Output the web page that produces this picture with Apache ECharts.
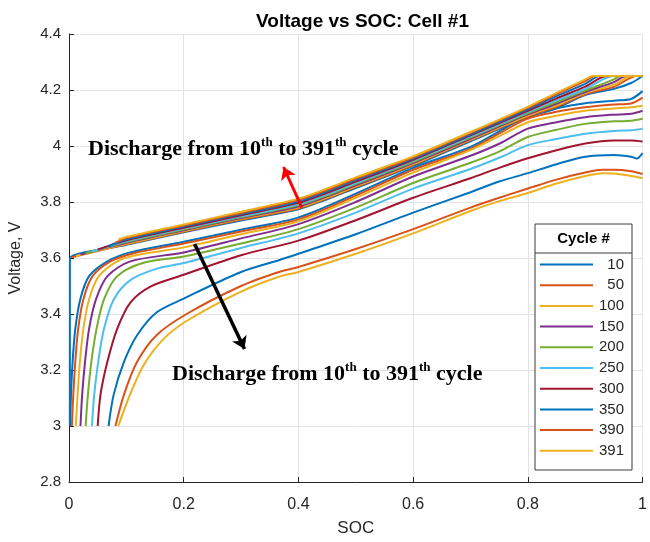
<!DOCTYPE html>
<html>
<head>
<meta charset="utf-8">
<script src="https://cdn.jsdelivr.net/npm/echarts@6/dist/echarts.min.js"></script>
<style>html,body{margin:0;padding:0;background:#fff}#c{width:650px;height:542px}</style>
</head>
<body>
<div id="c"></div>
<script>
// ---- data ----
const cycles = ['10','50','100','150','200','250','300','350','390','391'];
const cycleColors = ['#0072BD','#D95319','#EDB120','#7E2F8E','#77AC30','#4DBEEE','#A2142F','#0072BD','#D95319','#EDB120'];
const xTickLabels = ['0','0.2','0.4','0.6','0.8','1'];
const yTickLabels = ['2.8','3','3.2','3.4','3.6','3.8','4','4.2','4.4'];

// charge curves [SOC, V]
const charge10  = [[0.0015,3.0],[0.0015,3.57],[0.002,3.6],[0.1,3.647],[0.2,3.692],[0.3,3.734],[0.4,3.774],[0.45,3.81],[0.5,3.85],[0.55,3.889],[0.6,3.929],[0.7,4.017],[0.8,4.103],[0.85,4.135],[0.9,4.182],[0.95,4.204],[0.98,4.225],[1.0,4.25]];
const charge50  = [[0.005,3.603],[0.1,3.649],[0.2,3.694],[0.3,3.737],[0.4,3.777],[0.45,3.813],[0.5,3.853],[0.55,3.892],[0.6,3.932],[0.7,4.02],[0.8,4.106],[0.85,4.14],[0.9,4.185],[0.95,4.211],[0.99,4.25],[1.0,4.25]];
const charge100 = [[0.012,3.607],[0.1,3.651],[0.2,3.696],[0.3,3.74],[0.4,3.78],[0.45,3.816],[0.5,3.856],[0.55,3.895],[0.6,3.935],[0.7,4.023],[0.8,4.109],[0.85,4.145],[0.9,4.189],[0.95,4.219],[0.982,4.25],[1.0,4.25]];
const charge150 = [[0.02,3.612],[0.1,3.654],[0.2,3.699],[0.3,3.743],[0.4,3.784],[0.45,3.82],[0.5,3.86],[0.55,3.899],[0.6,3.939],[0.7,4.026],[0.8,4.113],[0.85,4.151],[0.9,4.193],[0.95,4.228],[0.972,4.25],[1.0,4.25]];
const charge200 = [[0.029,3.617],[0.1,3.657],[0.2,3.702],[0.3,3.746],[0.4,3.788],[0.45,3.824],[0.5,3.864],[0.55,3.903],[0.6,3.943],[0.7,4.03],[0.8,4.117],[0.85,4.157],[0.9,4.198],[0.95,4.238],[0.962,4.25],[1.0,4.25]];
const charge250 = [[0.04,3.623],[0.1,3.66],[0.2,3.705],[0.3,3.749],[0.4,3.792],[0.45,3.828],[0.5,3.868],[0.55,3.907],[0.6,3.947],[0.7,4.034],[0.8,4.121],[0.85,4.163],[0.9,4.204],[0.95,4.25],[1.0,4.25]];
const charge300 = [[0.05,3.63],[0.1,3.663],[0.2,3.708],[0.3,3.753],[0.4,3.797],[0.45,3.833],[0.5,3.873],[0.55,3.911],[0.6,3.951],[0.7,4.038],[0.8,4.126],[0.85,4.17],[0.9,4.212],[0.938,4.25],[1.0,4.25]];
const charge350 = [[0.069,3.642],[0.1,3.667],[0.2,3.712],[0.3,3.757],[0.4,3.802],[0.45,3.838],[0.5,3.878],[0.55,3.916],[0.6,3.955],[0.7,4.042],[0.8,4.131],[0.85,4.178],[0.9,4.222],[0.926,4.25],[1.0,4.25]];
const charge390 = [[0.081,3.655],[0.1,3.671],[0.2,3.716],[0.3,3.761],[0.4,3.807],[0.45,3.843],[0.5,3.883],[0.55,3.92],[0.6,3.959],[0.7,4.046],[0.8,4.136],[0.85,4.185],[0.9,4.232],[0.918,4.25],[1.0,4.25]];
const charge391 = [[0.086,3.666],[0.1,3.675],[0.2,3.72],[0.3,3.765],[0.4,3.812],[0.45,3.848],[0.5,3.888],[0.55,3.925],[0.6,3.963],[0.7,4.05],[0.8,4.14],[0.85,4.19],[0.9,4.238],[0.913,4.25],[1.0,4.25]];

// discharge curves [SOC, V]
const dis10  = [[0.002,3.0],[0.0035,3.113],[0.0063,3.23],[0.011,3.347],[0.0196,3.452],[0.035,3.535],[0.067,3.588],[0.107,3.62],[0.2,3.658],[0.3,3.701],[0.4,3.745],[0.5,3.83],[0.6,3.922],[0.7,3.997],[0.75,4.052],[0.8,4.11],[0.85,4.135],[0.9,4.153],[0.95,4.162],[0.98,4.168],[1.0,4.196]];
const dis50  = [[0.005,3.0],[0.0075,3.113],[0.011,3.23],[0.016,3.347],[0.025,3.452],[0.041,3.535],[0.0725,3.588],[0.113,3.617],[0.2,3.652],[0.3,3.695],[0.4,3.738],[0.5,3.823],[0.6,3.915],[0.7,3.99],[0.75,4.045],[0.8,4.098],[0.85,4.122],[0.9,4.138],[0.95,4.148],[0.98,4.152],[1.0,4.173]];
const dis100 = [[0.012,3.0],[0.015,3.113],[0.019,3.23],[0.025,3.347],[0.035,3.452],[0.052,3.535],[0.09,3.594],[0.13,3.615],[0.2,3.638],[0.3,3.685],[0.4,3.731],[0.5,3.815],[0.6,3.905],[0.7,3.985],[0.75,4.035],[0.8,4.085],[0.85,4.108],[0.9,4.126],[0.95,4.134],[0.98,4.138],[1.0,4.144]];
const dis150 = [[0.02,3.0],[0.023,3.113],[0.028,3.23],[0.035,3.347],[0.047,3.452],[0.067,3.535],[0.107,3.588],[0.2,3.62],[0.3,3.67],[0.4,3.721],[0.5,3.80],[0.6,3.891],[0.7,3.965],[0.75,4.008],[0.8,4.062],[0.85,4.085],[0.9,4.103],[0.95,4.112],[0.98,4.115],[1.0,4.126]];
const dis200 = [[0.029,3.0],[0.033,3.113],[0.039,3.23],[0.048,3.347],[0.061,3.452],[0.084,3.535],[0.13,3.583],[0.2,3.605],[0.3,3.652],[0.4,3.703],[0.5,3.78],[0.6,3.868],[0.7,3.94],[0.75,3.98],[0.8,4.032],[0.85,4.058],[0.9,4.079],[0.95,4.088],[0.98,4.09],[1.0,4.097]];
const dis250 = [[0.04,3.0],[0.044,3.113],[0.051,3.23],[0.061,3.347],[0.078,3.452],[0.107,3.521],[0.153,3.562],[0.2,3.582],[0.3,3.636],[0.4,3.688],[0.5,3.762],[0.6,3.848],[0.7,3.918],[0.75,3.958],[0.8,4.003],[0.85,4.025],[0.9,4.044],[0.95,4.054],[0.98,4.056],[1.0,4.062]];
const dis300 = [[0.05,3.0],[0.055,3.113],[0.067,3.23],[0.084,3.347],[0.107,3.441],[0.142,3.498],[0.2,3.54],[0.3,3.61],[0.4,3.662],[0.5,3.735],[0.6,3.815],[0.7,3.885],[0.75,3.922],[0.8,3.956],[0.85,3.985],[0.9,4.009],[0.95,4.02],[0.98,4.02],[1.0,4.016]];
const dis350 = [[0.069,3.0],[0.078,3.113],[0.096,3.23],[0.119,3.325],[0.153,3.406],[0.2,3.455],[0.3,3.55],[0.366,3.592],[0.4,3.615],[0.5,3.685],[0.6,3.762],[0.7,3.835],[0.75,3.873],[0.8,3.903],[0.85,3.935],[0.9,3.962],[0.95,3.968],[0.98,3.962],[0.99,3.955],[1.0,3.975]];
const dis390 = [[0.081,3.0],[0.096,3.113],[0.119,3.23],[0.153,3.325],[0.205,3.40],[0.3,3.50],[0.366,3.55],[0.4,3.568],[0.5,3.632],[0.6,3.703],[0.7,3.78],[0.75,3.815],[0.8,3.848],[0.85,3.88],[0.9,3.905],[0.93,3.915],[0.95,3.915],[0.98,3.91],[1.0,3.90]];
const dis391 = [[0.086,3.0],[0.104,3.1],[0.13,3.217],[0.165,3.311],[0.205,3.375],[0.3,3.48],[0.366,3.533],[0.4,3.55],[0.5,3.615],[0.6,3.688],[0.7,3.768],[0.75,3.803],[0.8,3.832],[0.85,3.866],[0.9,3.893],[0.93,3.903],[0.95,3.902],[0.98,3.893],[1.0,3.885]];

const chargeData = [charge10,charge50,charge100,charge150,charge200,charge250,charge300,charge350,charge390,charge391];
const dischargeData = [dis10,dis50,dis100,dis150,dis200,dis250,dis300,dis350,dis390,dis391];

// annotation arrows in data coordinates [SOC, V]
const redArrow = [[0.406,3.78],[0.374,3.925]];
const blackArrow = [[0.219,3.65],[0.306,3.275]];

// ---- chart ----
const chart = echarts.init(document.getElementById('c'), null, {renderer:'canvas'});
const series = [];
cycles.forEach((name, i) => {
  [chargeData[i], dischargeData[i]].forEach(d => {
    series.push({
      name: name, type: 'line', data: d, symbol: 'none', showSymbol: false,
      smooth: 0.3,
      lineStyle: {color: cycleColors[i], width: 2},
      itemStyle: {color: cycleColors[i]},
      emphasis: {disabled: true}, silent: true, z: 2
    });
  });
});
series.push({
  name: 'arrows', type: 'line', data: [], symbol: 'none', silent: true, z: 20,
  markLine: {
    silent: true, symbol: ['none','arrow'], symbolSize: 12, label: {show:false},
    animation: false,
    data: [
      [{coord: redArrow[0], lineStyle:{color:'#ff0000', width:3, type:'solid'}}, {coord: redArrow[1]}],
      [{coord: blackArrow[0], lineStyle:{color:'#000000', width:3.5, type:'solid'}}, {coord: blackArrow[1]}]
    ]
  }
});

const axisTxt = {color:'#262626', fontSize:15, fontFamily:'Liberation Sans, Arial, sans-serif'};
const supText = {
  n: {fontSize:22, fontWeight:'bold', fontFamily:'Liberation Serif, Times New Roman, serif', color:'#000', lineHeight:26},
  s: {fontSize:13, fontWeight:'bold', fontFamily:'Liberation Serif, Times New Roman, serif', color:'#000', lineHeight:15, verticalAlign:'top'}
};
const annText = '{n|Discharge from 10}{s|th}{n| to 391}{s|th}{n| cycle}';

chart.setOption({
  animation: false,
  backgroundColor: '#fff',
  title: {
    text: 'Voltage vs SOC: Cell #1', left: 357.5, top: 7, textAlign: 'center',
    textStyle: {fontSize:19, fontWeight:'bold', color:'#000', fontFamily:'Liberation Sans, Arial, sans-serif'}
  },
  grid: {left:68, right:3, top:34, bottom:55, containLabel:false},
  xAxis: {
    type:'value', min:0, max:1, interval:0.2,
    name:'SOC', nameLocation:'middle', nameGap:38,
    nameTextStyle: {color:'#262626', fontSize:17, fontFamily:'Liberation Sans, Arial, sans-serif'},
    axisLine: {show:true, onZero:false, lineStyle:{color:'#262626', width:1}},
    axisTick: {show:true, inside:true, length:5, lineStyle:{color:'#262626'}},
    axisLabel: Object.assign({margin:15, formatter: v => xTickLabels[Math.round(v/0.2)]}, axisTxt, {fontSize:16}),
    splitLine: {show:true, lineStyle:{color:'#e3e3e3', width:1}}
  },
  yAxis: {
    type:'value', min:2.8, max:4.4, interval:0.2,
    name:'Voltage, V', nameLocation:'middle', nameGap:45, nameRotate:90,
    nameTextStyle: {color:'#262626', fontSize:16, fontFamily:'Liberation Sans, Arial, sans-serif'},
    axisLine: {show:true, onZero:false, lineStyle:{color:'#262626', width:1}},
    axisTick: {show:true, inside:true, length:5, lineStyle:{color:'#262626'}},
    axisLabel: Object.assign({margin:8, formatter: v => yTickLabels[Math.round((v-2.8)/0.2)]}, axisTxt),
    splitLine: {show:true, lineStyle:{color:'#e3e3e3', width:1}}
  },
  legend: {
    data: cycles, orient:'vertical', left:540, top:257, padding:0,
    itemWidth:53, itemHeight:16, itemGap:5.7, z:12, selectedMode:false,
    icon: 'path://M0,7L53,7L53,9L0,9Z',
    formatter: '{r|{name}}',
    textStyle: {color:'#262626', fontSize:15, fontFamily:'Liberation Sans, Arial, sans-serif',
      rich: {r: {width:26, align:'right', fontSize:15, color:'#262626', fontFamily:'Liberation Sans, Arial, sans-serif'}}}
  },
  graphic: [
    {type:'rect', z:10, shape:{x:535, y:224, width:97, height:246}, style:{fill:'#fff', stroke:'#3a3a3a', lineWidth:1}},
    {type:'line', z:11, shape:{x1:535, y1:253, x2:632, y2:253}, style:{stroke:'#3a3a3a', lineWidth:1}},
    {type:'text', z:11, x:583.5, y:239, style:{text:'Cycle #', fill:'#000', font:'bold 15px "Liberation Sans", Arial, sans-serif', align:'center', verticalAlign:'middle'}},
    {type:'text', z:21, x:88, y:136, style:{text:annText, rich:supText, verticalAlign:'top'}},
    {type:'text', z:21, x:172, y:361, style:{text:annText, rich:supText, verticalAlign:'top'}}
  ],
  series: series
});
</script>
</body>
</html>
